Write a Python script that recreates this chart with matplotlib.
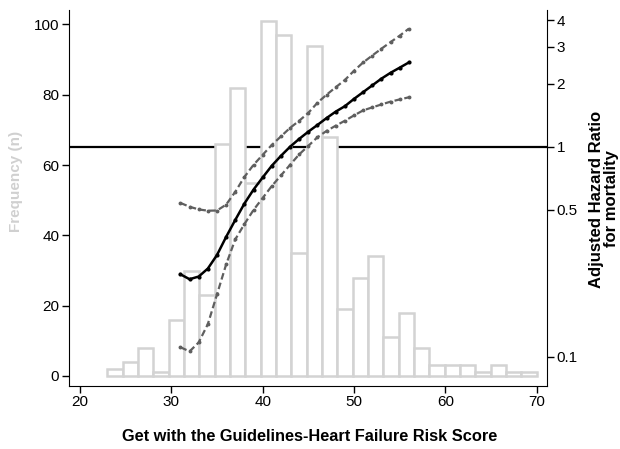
import matplotlib
matplotlib.use("Agg")
import matplotlib.pyplot as plt
from matplotlib.transforms import blended_transform_factory
from matplotlib.ticker import FixedLocator, FixedFormatter, NullLocator

plt.rcParams["font.family"] = ["Liberation Sans", "DejaVu Sans"]

# Histogram of the risk score (28 equal bins from 23 to 70)
bin_start = 23.0
bin_end = 70.0
counts = [2, 4, 8, 1, 16, 30, 23, 66, 82, 55, 101, 97, 35, 94,
          68, 19, 28, 34, 11, 18, 8, 3, 3, 3, 1, 3, 1, 1]

# Adjusted hazard ratio with 95% confidence bounds
score = list(range(31, 57))
hr = [0.247, 0.234, 0.241, 0.263, 0.305, 0.372, 0.448, 0.536, 0.625,
      0.714, 0.812, 0.905, 1.0, 1.09, 1.18, 1.27, 1.37, 1.47, 1.56,
      1.69, 1.82, 1.96, 2.11, 2.25, 2.38, 2.52]
hr_upper = [0.540, 0.518, 0.503, 0.496, 0.497, 0.530, 0.610, 0.718,
            0.820, 0.915, 1.02, 1.12, 1.23, 1.33, 1.45, 1.62, 1.77,
            1.92, 2.08, 2.30, 2.52, 2.72, 2.93, 3.15, 3.38, 3.65]
hr_lower = [0.111, 0.106, 0.117, 0.143, 0.198, 0.275, 0.362, 0.428,
            0.500, 0.570, 0.650, 0.730, 0.820, 0.920, 1.01, 1.11, 1.19,
            1.26, 1.33, 1.41, 1.49, 1.54, 1.59, 1.64, 1.68, 1.72]

hr_ticks = [0.1, 0.5, 1, 2, 3, 4]
hr_tick_labels = ["0.1", "0.5", "1", "2", "3", "4"]

fig = plt.figure(figsize=(6.2, 4.49), dpi=100)
ax = fig.add_axes([0.1113, 0.141, 0.7705, 0.8367])
ax2 = ax.twinx()

bin_w = (bin_end - bin_start) / len(counts)
lefts = [bin_start + i * bin_w for i in range(len(counts))]
ax.bar(lefts, counts, width=bin_w, align="edge", facecolor="white",
       edgecolor="#d3d3d3", linewidth=1.8, zorder=1)

# reference line at HR = 1, kept underneath the bars
ref_tr = blended_transform_factory(ax.transAxes, ax2.transData)
ax.plot([0, 1], [1, 1], color="black", linewidth=1.6, transform=ref_tr,
        zorder=0.5)

ax2.set_yscale("log")
ax2.plot(score, hr_upper, color="#5f5f5f", linewidth=1.6, linestyle=(0, (3, 1.5)),
         marker="o", markersize=1.8)
ax2.plot(score, hr_lower, color="#5f5f5f", linewidth=1.6, linestyle=(0, (3, 1.5)),
         marker="o", markersize=1.8)
ax2.plot(score, hr, color="black", linewidth=1.8, marker="o", markersize=2)

ax.set_xlim(18.8, 71.1)
ax.set_ylim(-2.76, 104.1)
ax2.set_ylim(0.0728, 4.48)

ax.set_xticks([20, 30, 40, 50, 60, 70])
ax.set_yticks([0, 20, 40, 60, 80, 100])
ax2.yaxis.set_major_locator(FixedLocator(hr_ticks))
ax2.yaxis.set_major_formatter(FixedFormatter(hr_tick_labels))
ax2.yaxis.set_minor_locator(NullLocator())

for a in (ax, ax2):
    a.spines["top"].set_visible(False)
    a.tick_params(length=5, width=1, labelsize=11, color="black", pad=2)
ax.spines["right"].set_visible(False)
ax2.spines["left"].set_visible(False)
ax2.spines["bottom"].set_visible(False)

ax.set_xlabel("Get with the Guidelines-Heart Failure Risk Score",
              fontsize=11.8, fontweight="bold", va="center")
ax.xaxis.set_label_coords(0.504, -0.136)

ax.set_ylabel("Frequency (n)", fontsize=11, fontweight="bold",
              color="#d0d0d0", ha="center", va="center")
ax.yaxis.set_label_coords(-0.11, 0.543)

ax2.set_ylabel("Adjusted Hazard Ratio\nfor mortality", fontsize=12,
               fontweight="bold", rotation=90, ha="center", va="center",
               linespacing=1.0)
ax2.yaxis.set_label_coords(1.12, 0.497)

fig.savefig("out.png", dpi=100)
